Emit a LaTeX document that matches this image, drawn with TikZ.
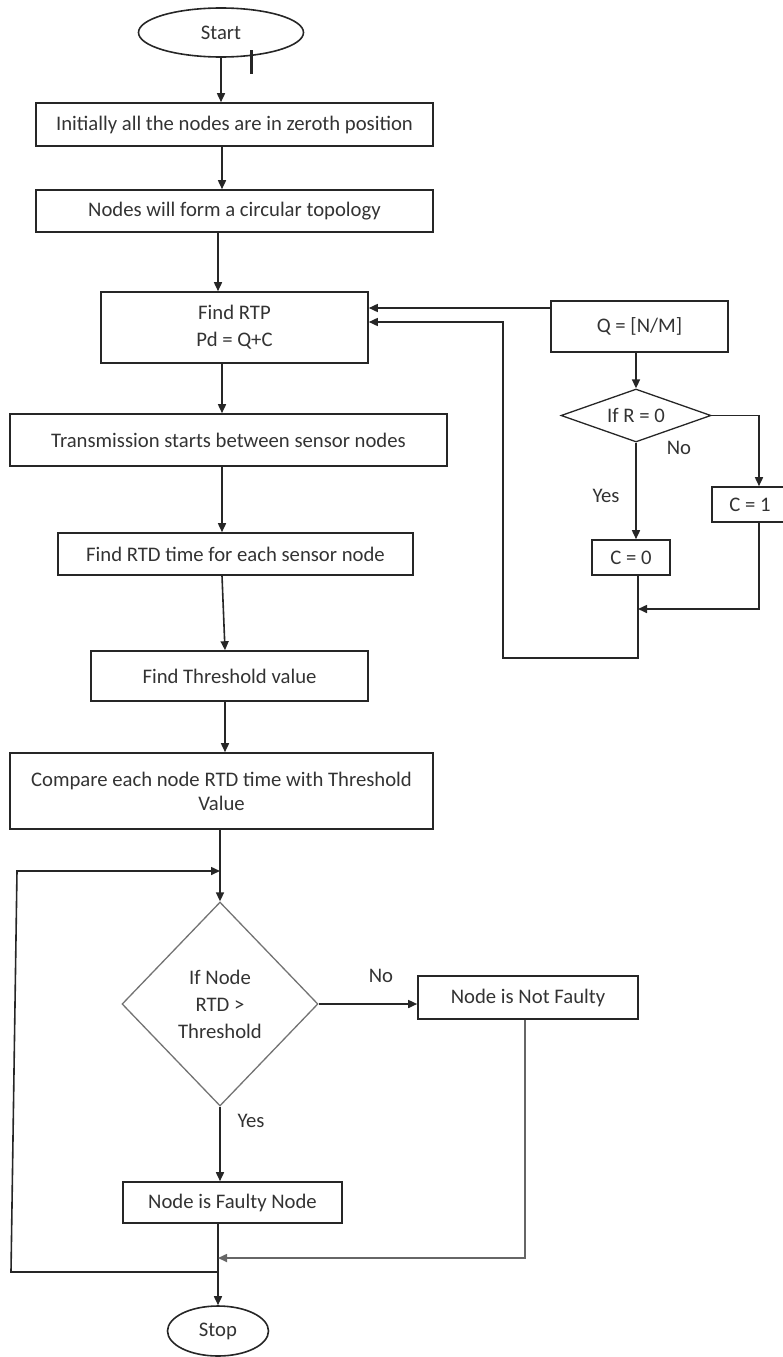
\documentclass[tikz,border=0pt]{standalone}
\usepackage{fontspec}
\setmainfont{Carlito}
\usetikzlibrary{shapes.geometric,arrows.meta}

\begin{document}
\begin{tikzpicture}[x=1pt, y=-1pt,
	every node/.style={font=\fontsize{20.7}{27}\selectfont, text=black!80},
	box/.style={draw=black!85, line width=1.6pt, rectangle, inner sep=0pt, align=center},
	term/.style={draw=black!85, line width=1.6pt, ellipse, inner sep=0pt},
	dia/.style={draw=black!55, line width=1.3pt, diamond, inner sep=0pt, align=center},
	arr/.style={draw=black!85, line width=1.6pt, -{Triangle[length=9pt,width=8pt]}},
	lbl/.style={inner sep=0pt}]
	\useasboundingbox (0,0) rectangle (783,1357);
	% main column
	\node[term, minimum width=165pt, minimum height=49pt] (start) at (221,32.5) {Start};
	\draw[line width=3pt, black!85] (251,50) -- (251,74);
	\node[box, minimum width=397pt, minimum height=43pt] (init) at (234.5,124.5) {Initially all the nodes are in zeroth position};
	\node[box, minimum width=397pt, minimum height=42pt] (topo) at (234.5,211) {Nodes will form a circular topology};
	\node[box, minimum width=267pt, minimum height=71pt] (rtp) at (234.5,327.5) {Find RTP\\Pd = Q+C};
	\node[box, minimum width=437pt, minimum height=52pt] (trans) at (228.5,440) {Transmission starts between sensor nodes};
	\node[box, minimum width=355pt, minimum height=42pt] (rtd) at (235.5,554) {Find RTD time for each sensor node};
	\node[box, minimum width=277pt, minimum height=50pt] (thr) at (229.5,676) {Find Threshold value};
	\node[box, minimum width=423pt, minimum height=76pt, font=\fontsize{20.7}{24}\selectfont] (cmp) at (221.5,791) {Compare each node RTD time with Threshold\\Value};
	\node[dia, minimum width=196pt, minimum height=204pt, aspect=0.75] (dec) at (220,1004) {If Node\\RTD >\\Threshold};
	\node[box, minimum width=220pt, minimum height=43pt] (ok) at (528,997.5) {Node is Not Faulty};
	\node[box, minimum width=219pt, minimum height=41pt] (faulty) at (232.5,1202.5) {Node is Faulty Node};
	\node[term, minimum width=101pt, minimum height=50pt] (stop) at (218,1331) {Stop};
	% side branch
	\node[box, minimum width=177pt, minimum height=51pt] (q) at (639.5,326.5) {Q = [N/M]};
	\node[dia, draw=black!85, minimum width=150pt, minimum height=53pt, aspect=2.8] (rdec) at (636,415.5) {If R = 0};
	\node[box, minimum width=76pt, minimum height=35pt] (c1) at (750,504.5) {C = 1};
	\node[box, minimum width=78pt, minimum height=35pt] (c0) at (631,557.5) {C = 0};
	\node[lbl] (no1) at (679,448) {No};
	\node[lbl] (yes1) at (606,496) {Yes};
	\node[lbl] (no2) at (381,976) {No};
	\node[lbl] (yes2) at (251,1121) {Yes};
	\coordinate (lpin) at (220,871);
	\coordinate (lpout) at (218,1272);
	\coordinate (mrg) at (218,1258);
	\coordinate (cjn) at (638,609);
	% connectors
	\draw[arr] (start) -- (start |- init.north);
	\draw[arr] ([xshift=-12.5pt]init.south) -- ([xshift=-12.5pt]topo.north);
	\draw[arr] ([xshift=-16.5pt]topo.south) -- ([xshift=-16.5pt]rtp.north);
	\draw[arr] ([xshift=-12.5pt]rtp.south) -- ([xshift=-6.5pt]trans.north);
	\draw[arr] ([xshift=-6.5pt]trans.south) -- ([xshift=-13.5pt]rtd.north);
	\draw[arr] ([xshift=-13.5pt]rtd.south) -- ([xshift=-4.5pt]thr.north);
	\draw[arr] ([xshift=-4.5pt]thr.south) -- ([xshift=3.5pt]cmp.north);
	\draw[arr] (cmp.south -| dec) -- (dec.north);
	\draw[arr] (dec.east) -- (dec.east -| ok.west);
	\draw[arr] (dec.south) -- (dec.south |- faulty.north);
	\draw[arr] (faulty.south -| stop) -- (stop.north);
	\draw[arr, draw=black!60] ([xshift=-3pt]ok.south) |- (mrg);
	\draw[arr] (lpout) -- (11,1272) -- (17,871) -- (lpin);
	\draw[arr] ([yshift=18.5pt]q.west) -- ([yshift=19.5pt]rtp.east);
	\draw[arr] ([xshift=7pt]c0.south) |- (503,658) |- ([yshift=5.5pt]rtp.east);
	\draw[arr] (q.south -| rdec) -- (rdec.north);
	\draw[arr] (rdec.east) -| ([xshift=9pt]c1.north);
	\draw[arr] (rdec.south) -- (rdec.south |- c0.north);
	\draw[arr] ([xshift=9pt]c1.south) |- (cjn);
\end{tikzpicture}
\end{document}
